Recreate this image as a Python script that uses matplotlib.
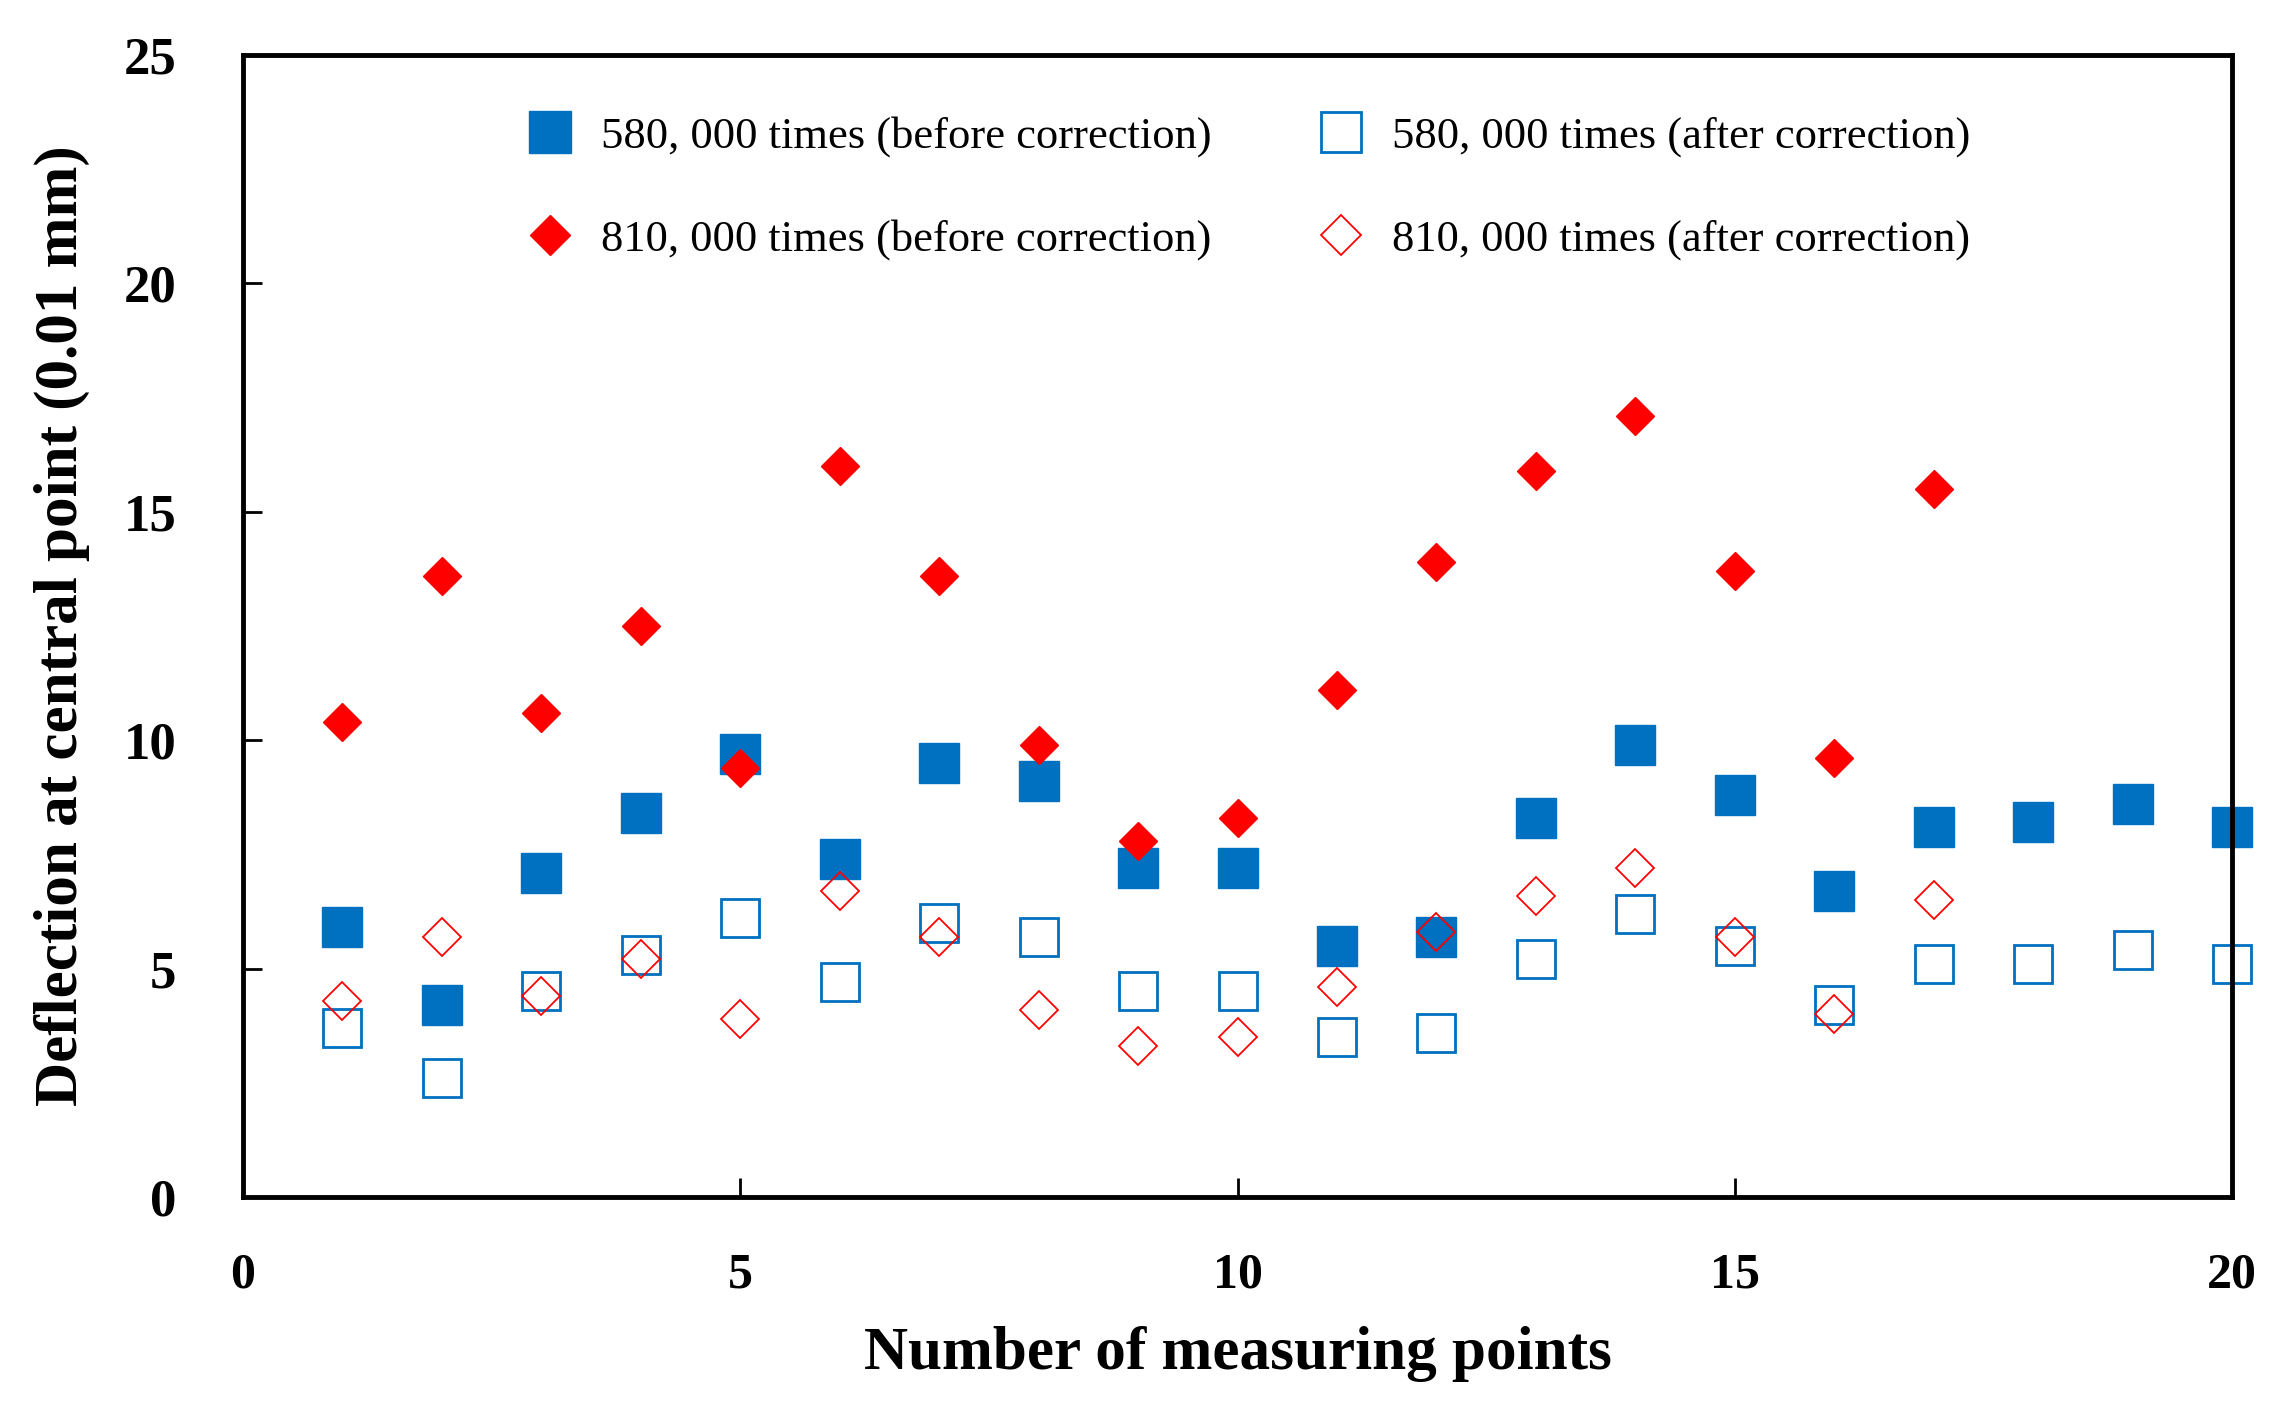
import matplotlib

matplotlib.use("Agg")
import matplotlib.pyplot as plt

# Measuring point index and deflection values (0.01 mm).
points_580 = list(range(1, 21))
before_580 = [5.9, 4.2, 7.1, 8.4, 9.7, 7.4, 9.5, 9.1, 7.2, 7.2,
              5.5, 5.7, 8.3, 9.9, 8.8, 6.7, 8.1, 8.2, 8.6, 8.1]
after_580 = [3.7, 2.6, 4.5, 5.3, 6.1, 4.7, 6.0, 5.7, 4.5, 4.5,
             3.5, 3.6, 5.2, 6.2, 5.5, 4.2, 5.1, 5.1, 5.4, 5.1]

points_810 = list(range(1, 18))
before_810 = [10.4, 13.6, 10.6, 12.5, 9.4, 16.0, 13.6, 9.9, 7.8, 8.3,
              11.1, 13.9, 15.9, 17.1, 13.7, 9.6, 15.5]
after_810 = [4.3, 5.7, 4.4, 5.2, 3.9, 6.7, 5.7, 4.1, 3.3, 3.5,
             4.6, 5.8, 6.6, 7.2, 5.7, 4.0, 6.5]

x_ticks = [0, 5, 10, 15, 20]
y_ticks = [0, 5, 10, 15, 20, 25]

BLUE = "#0070C0"
RED = "#FF0000"
SERIF = "Liberation Serif"
W, H = 2284, 1408

fig = plt.figure(figsize=(W / 100, H / 100), dpi=100)
ax = fig.add_axes([243 / W, 1 - 1197 / H, (2232 - 243) / W, (1197 - 55) / H])

ax.plot(points_580, before_580, "s", ms=29, color=BLUE, mec=BLUE, mew=1,
        clip_on=False, label="580, 000 times (before correction)")
ax.plot(points_580, after_580, "s", ms=27.5, mfc="none", mec=BLUE, mew=2,
        clip_on=False, label="580, 000 times (after correction)")
ax.plot(points_810, before_810, "D", ms=19, color=RED, mec=RED, mew=1,
        clip_on=False, label="810, 000 times (before correction)")
ax.plot(points_810, after_810, "D", ms=19, mfc="none", mec=RED, mew=1.3,
        clip_on=False, label="810, 000 times (after correction)")

ax.set_xlim(0, 20)
ax.set_ylim(0, 25)
ax.set_xticks(x_ticks)
ax.set_yticks(y_ticks)
ax.tick_params(direction="in", length=14, width=2)
ax.tick_params(axis="x", pad=40)
ax.tick_params(axis="y", pad=48)
for lbl in ax.get_xticklabels():
    lbl.set_fontfamily(SERIF)
    lbl.set_fontweight("bold")
    lbl.set_fontsize(36)
for lbl in ax.get_yticklabels():
    lbl.set_fontfamily(SERIF)
    lbl.set_fontweight("bold")
    lbl.set_fontsize(38)
for spine in ax.spines.values():
    spine.set_linewidth(3.5)

ax.set_xlabel("Number of measuring points", family=SERIF, fontweight="bold",
              fontsize=44, labelpad=20)
ax.set_ylabel("Deflection at central point (0.01 mm)", family=SERIF,
              fontweight="bold", fontsize=44, labelpad=24)

handles, labels = ax.get_legend_handles_labels()
order = [0, 2, 1, 3]
ax.legend([handles[i] for i in order], [labels[i] for i in order], ncol=2,
          frameon=False, loc="upper left",
          bbox_to_anchor=(528 / W, 1 - 116 / H), bbox_transform=fig.transFigure,
          borderpad=0, borderaxespad=0, markerscale=1.05,
          prop={"family": SERIF, "size": 32}, handletextpad=0.65,
          columnspacing=2.4, labelspacing=1.4, handlelength=1.0)

fig.savefig("out.png", dpi=100)
